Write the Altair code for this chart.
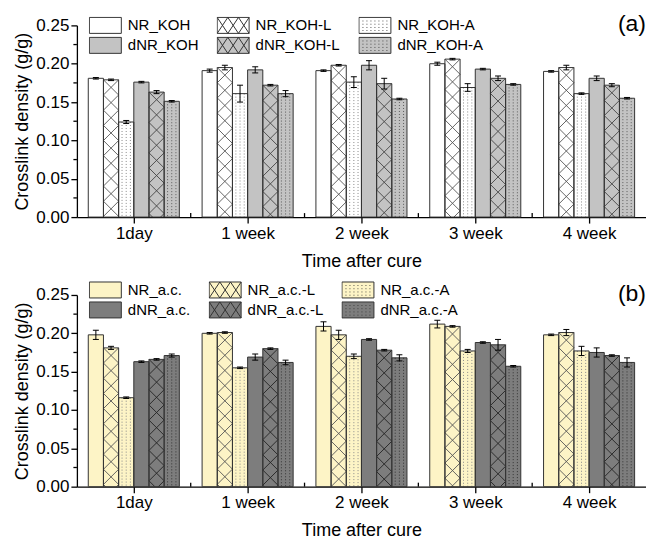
import json
import altair as alt
import pandas as pd

FONT = "Liberation Sans"

TIMES = ["1day", "1 week", "2 week", "3 week", "4 week"]

# ---- panel (a) ----
SERIES_A = ["NR_KOH", "NR_KOH-L", "NR_KOH-A", "dNR_KOH", "dNR_KOH-L", "dNR_KOH-A"]
nr_koh = [0.181, 0.191, 0.191, 0.200, 0.190]
nr_koh_l = [0.179, 0.195, 0.198, 0.206, 0.195]
nr_koh_a = [0.124, 0.161, 0.176, 0.169, 0.161]
dnr_koh = [0.176, 0.192, 0.198, 0.193, 0.181]
dnr_koh_l = [0.163, 0.172, 0.174, 0.181, 0.172]
dnr_koh_a = [0.151, 0.161, 0.154, 0.173, 0.155]
err_nr_koh = [0.001, 0.002, 0.001, 0.002, 0.001]
err_nr_koh_l = [0.001, 0.003, 0.001, 0.001, 0.003]
err_nr_koh_a = [0.002, 0.011, 0.007, 0.005, 0.001]
err_dnr_koh = [0.001, 0.004, 0.006, 0.001, 0.003]
err_dnr_koh_l = [0.002, 0.001, 0.007, 0.003, 0.002]
err_dnr_koh_a = [0.001, 0.004, 0.001, 0.001, 0.001]

# ---- panel (b) ----
SERIES_B = ["NR_a.c.", "NR_a.c.-L", "NR_a.c.-A", "dNR_a.c.", "dNR_a.c.-L", "dNR_a.c.-A"]
nr_ac = [0.198, 0.200, 0.209, 0.212, 0.198]
nr_ac_l = [0.181, 0.201, 0.198, 0.209, 0.201]
nr_ac_a = [0.116, 0.155, 0.170, 0.177, 0.177]
dnr_ac = [0.163, 0.169, 0.192, 0.188, 0.175]
dnr_ac_l = [0.166, 0.180, 0.178, 0.185, 0.171]
dnr_ac_a = [0.171, 0.162, 0.168, 0.157, 0.162]
err_nr_ac = [0.006, 0.001, 0.006, 0.005, 0.001]
err_nr_ac_l = [0.002, 0.001, 0.006, 0.001, 0.004]
err_nr_ac_a = [0.001, 0.001, 0.003, 0.002, 0.006]
err_dnr_ac = [0.001, 0.004, 0.001, 0.001, 0.006]
err_dnr_ac_l = [0.001, 0.001, 0.001, 0.007, 0.001]
err_dnr_ac_a = [0.002, 0.003, 0.004, 0.001, 0.006]

FILLS_A = ["#ffffff", "#ffffff", "#ffffff", "#c3c3c3", "#c3c3c3", "#c3c3c3"]
FILLS_B = ["#fdf4c6", "#fdf4c6", "#fdf4c6", "#7d7d7d", "#7d7d7d", "#7d7d7d"]
PAT_A = ["#666666", "#555555", "#8a8a8a", "#444444", "#444444", "#5a5a5a"]
PAT_B = ["#666666", "#555555", "#8a8a8a", "#222222", "#222222", "#333333"]

# axis tick positions
X_MAJOR = [0, 1, 2, 3, 4]
X_MINOR = [0.5, 1.5, 2.5, 3.5]
Y_MAJOR = [0.0, 0.05, 0.10, 0.15, 0.20, 0.25]
Y_MINOR = [0.025, 0.075, 0.125, 0.175, 0.225]

# ---- layout / style constants ----
W, H = 570, 192
YMAX = 0.25
NG = 6
GROUP = 0.8
BW = GROUP / NG
PX_PER_X = W / 5.0
TILE_PX = BW * PX_PER_X
TILE_H = TILE_PX / H * YMAX
CAP = 3.0 / PX_PER_X
DOT_COLS = [-0.55, 0.0, 0.55]

# legend key shapes: 32x16 px boxes drawn at symbol size 256 (unit = 8 px)
RECT = "M-2,-1H2V1H-2Z"
RECT_X = RECT + (
    " M-2,-1L-0.667,1 M-2,1L-0.667,-1"
    " M-0.667,-1L0.667,1 M-0.667,1L0.667,-1"
    " M0.667,-1L2,1 M0.667,1L2,-1"
)
RECT_D = RECT + "".join(
    f" M{x:.2f},{y:.2f}v0.1" for x in [-1.5, -1.0, -0.5, 0, 0.5, 1.0, 1.5] for y in [-0.6, -0.2, 0.2, 0.6]
)
XTILE = "M-1,-1L1,1M-1,1L1,-1"


def kind_of(s):
    if s.endswith("-L"):
        return "L"
    if s.endswith("-A"):
        return "A"
    return "P"


def panel(series, values, errors, fills, pats, tag, leg_y):
    rows, tiles, dots, caps = [], [], [], []
    for si, s in enumerate(series):
        k = kind_of(s)
        for ti, t in enumerate(TIMES):
            v = values[si][ti]
            e = errors[si][ti]
            xc = ti + (si - (NG - 1) / 2) * BW
            rows.append(dict(series=s, time=t, v=v, base=0.0, lo=v - e, hi=v + e,
                             xc=xc, x0=xc - BW / 2, x1=xc + BW / 2))
            for yy in (v + e, v - e):
                caps.append(dict(y=yy, cl=xc - CAP, cr=xc + CAP))
            if k == "L":
                n = 0
                while True:
                    yy = v - (n + 0.5) * TILE_H
                    if yy + TILE_H / 2 <= 0:
                        break
                    tiles.append(dict(xc=xc, y=yy, pc=pats[si]))
                    n += 1
            elif k == "A":
                for f in DOT_COLS:
                    dots.append(dict(x=xc + f * BW / 2, y0=0.0, y1=v, pc=pats[si]))

    df = pd.DataFrame(rows)
    tdf = pd.DataFrame(tiles)
    ddf = pd.DataFrame(dots)
    cdf = pd.DataFrame(caps)
    ldf = pd.DataFrame(dict(series=series, x=[0.0] * len(series), y=[2.0] * len(series)))
    tagdf = pd.DataFrame(dict(label=[tag]))
    xmin = pd.DataFrame(dict(x=X_MINOR))
    ymin = pd.DataFrame(dict(y=Y_MINOR))

    xs = alt.Scale(domain=[-0.5, 4.5], nice=False, zero=False)
    ys = alt.Scale(domain=[0, YMAX], nice=False, zero=True)
    fill_scale = alt.Scale(domain=series, range=fills)
    shapes = [{"P": RECT, "L": RECT_X, "A": RECT_D}[kind_of(s)] for s in series]
    shape_scale = alt.Scale(domain=series, range=shapes)
    stroke_scale = alt.Scale(domain=series, range=["#333333"] * len(series))

    xaxis = alt.Axis(
        values=X_MAJOR,
        labelExpr=f"{json.dumps(TIMES)}[datum.value]",
        tickSize=6, labelOverlap=False, labelFlush=False, grid=False,
        title="Time after cure", titlePadding=11, labelPadding=2,
    )
    yaxis = alt.Axis(
        values=Y_MAJOR, format=".2f",
        tickSize=6, labelOverlap=False, labelFlush=False, grid=False,
        title="Crosslink density (g/g)", titlePadding=4, labelPadding=2,
    )

    legend = alt.Legend(
        orient="none", legendX=12, legendY=leg_y, columns=3, direction="horizontal", title=None,
        labelFont=FONT, labelFontSize=15, labelColor="#000", labelOffset=14,
        symbolSize=256, symbolOffset=8, symbolStrokeColor="#333333",
        symbolStrokeWidth=1, symbolOpacity=1, columnPadding=18, rowPadding=2,
        clipHeight=18,
    )

    def X(field):
        return alt.X(field, scale=xs, axis=xaxis)

    def Y(field):
        return alt.Y(field, scale=ys, axis=yaxis)

    bars = alt.Chart(df).mark_rect().encode(
        x=X("x0:Q"), x2="x1", y=Y("v:Q"), y2="base",
        fill=alt.Fill("series:N", scale=fill_scale, legend=legend),
    )
    tile_layer = alt.Chart(tdf).mark_point(
        shape=XTILE, size=TILE_PX * TILE_PX, filled=False, strokeWidth=0.9, opacity=1, clip=True
    ).encode(
        x=X("xc:Q"), y=Y("y:Q"), stroke=alt.Stroke("pc:N", scale=None),
    )
    dot_layer = alt.Chart(ddf).mark_rule(strokeDash=[1, 2], strokeWidth=1).encode(
        x=X("x:Q"), y=Y("y1:Q"), y2="y0", stroke=alt.Stroke("pc:N", scale=None),
    )
    outline = alt.Chart(df).mark_rect(stroke="#333333", strokeWidth=1, fillOpacity=0).encode(
        x=X("x0:Q"), x2="x1", y=Y("v:Q"), y2="base",
    )
    err_layer = alt.Chart(df).mark_rule(color="#000000", strokeWidth=1).encode(
        x=X("xc:Q"), y=Y("lo:Q"), y2="hi",
    )
    cap_layer = alt.Chart(cdf).mark_rule(color="#000000", strokeWidth=1).encode(
        x=X("cl:Q"), x2="cr", y=Y("y:Q"),
    )
    xminor = alt.Chart(xmin).mark_rule(color="#000000", strokeWidth=1.3).encode(
        x=X("x:Q"), y=alt.value(H), y2=alt.value(H - 4),
    )
    yminor = alt.Chart(ymin).mark_rule(color="#000000", strokeWidth=1.3).encode(
        y=Y("y:Q"), x=alt.value(-3.5), x2=alt.value(0),
    )
    leg_layer = alt.Chart(ldf).mark_point(filled=True, size=256, opacity=1, clip=True).encode(
        x=X("x:Q"), y=Y("y:Q"),
        fill=alt.Fill("series:N", scale=fill_scale, legend=legend),
        shape=alt.Shape("series:N", scale=shape_scale, legend=legend),
        stroke=alt.Stroke("series:N", scale=stroke_scale, legend=legend),
    )
    tag_layer = alt.Chart(tagdf).mark_text(
        align="right", baseline="middle", fontSize=23, font=FONT, color="#000000"
    ).encode(x=alt.value(W), y=alt.value(-1), text="label:N")

    return alt.layer(
        bars, tile_layer, dot_layer, outline, err_layer, cap_layer, xminor, yminor, leg_layer, tag_layer
    ).properties(width=W, height=H)


pa = panel(
    SERIES_A,
    [nr_koh, nr_koh_l, nr_koh_a, dnr_koh, dnr_koh_l, dnr_koh_a],
    [err_nr_koh, err_nr_koh_l, err_nr_koh_a, err_dnr_koh, err_dnr_koh_l, err_dnr_koh_a],
    FILLS_A, PAT_A, "(a)", -9,
)
pb = panel(
    SERIES_B,
    [nr_ac, nr_ac_l, nr_ac_a, dnr_ac, dnr_ac_l, dnr_ac_a],
    [err_nr_ac, err_nr_ac_l, err_nr_ac_a, err_dnr_ac, err_dnr_ac_l, err_dnr_ac_a],
    FILLS_B, PAT_B, "(b)", -14,
)

chart = (
    alt.vconcat(pa, pb, spacing=11)
    .resolve_scale(x="independent", y="independent", fill="independent", shape="independent",
                   stroke="independent")
    .resolve_legend(fill="independent", shape="independent", stroke="independent")
    .properties(padding={"left": 5, "top": 5, "right": 0, "bottom": 0})
    .configure_view(stroke=None)
    .configure_axis(
        labelFont=FONT, titleFont=FONT, labelFontSize=17, titleFontSize=18,
        titleFontWeight="normal", labelColor="#000000", titleColor="#000000",
        domainColor="#000000", tickColor="#000000", domainWidth=1.3, tickWidth=1.3,
    )
    .configure_legend(labelFont=FONT, symbolStrokeColor="#333333", symbolStrokeWidth=1)
)

chart.save("out.html", embed_options={"renderer": "svg", "actions": False})
